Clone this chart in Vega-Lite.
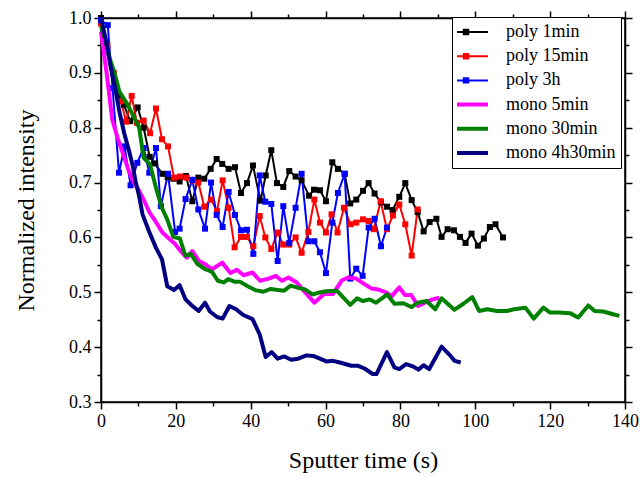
{
  "$schema": "https://vega.github.io/schema/vega-lite/v6.json",
  "width": 524,
  "height": 384,
  "autosize": {"type": "none"},
  "padding": {"left": 101, "top": 18, "right": 16, "bottom": 75},
  "background": "white",
  "config": {
    "view": {"stroke": "black", "strokeWidth": 1.5},
    "font": "Liberation Serif",
    "legend": {"labelFont": "Liberation Serif"},
    "axis": {"labelFont": "Liberation Serif", "titleFont": "Liberation Serif"}
  },
  "datasets": {
    "d": [
      {"s":"poly 1min","t":0,"v":1.0},{"s":"poly 1min","t":1.6,"v":0.95},{"s":"poly 1min","t":3.2,"v":0.9},{"s":"poly 1min","t":4.7,"v":0.86},{"s":"poly 1min","t":6.1,"v":0.842},{"s":"poly 1min","t":7.8,"v":0.812},{"s":"poly 1min","t":9.8,"v":0.837},{"s":"poly 1min","t":11.4,"v":0.8},{"s":"poly 1min","t":13.0,"v":0.747},{"s":"poly 1min","t":14.3,"v":0.735},{"s":"poly 1min","t":16.4,"v":0.716},{"s":"poly 1min","t":17.8,"v":0.71},{"s":"poly 1min","t":19.3,"v":0.707},{"s":"poly 1min","t":21.0,"v":0.702},{"s":"poly 1min","t":22.7,"v":0.712},{"s":"poly 1min","t":24.4,"v":0.666},{"s":"poly 1min","t":26.0,"v":0.709},{"s":"poly 1min","t":27.6,"v":0.707},{"s":"poly 1min","t":29.3,"v":0.725},{"s":"poly 1min","t":30.9,"v":0.743},{"s":"poly 1min","t":32.4,"v":0.734},{"s":"poly 1min","t":34.1,"v":0.725},{"s":"poly 1min","t":35.8,"v":0.728},{"s":"poly 1min","t":37.4,"v":0.681},{"s":"poly 1min","t":39.0,"v":0.699},{"s":"poly 1min","t":40.6,"v":0.731},{"s":"poly 1min","t":42.6,"v":0.667},{"s":"poly 1min","t":44.0,"v":0.713},{"s":"poly 1min","t":45.5,"v":0.759},{"s":"poly 1min","t":47.0,"v":0.699},{"s":"poly 1min","t":48.7,"v":0.692},{"s":"poly 1min","t":50.3,"v":0.721},{"s":"poly 1min","t":52.0,"v":0.711},{"s":"poly 1min","t":53.6,"v":0.704},{"s":"poly 1min","t":55.6,"v":0.676},{"s":"poly 1min","t":56.9,"v":0.687},{"s":"poly 1min","t":58.5,"v":0.686},{"s":"poly 1min","t":60.1,"v":0.666},{"s":"poly 1min","t":61.8,"v":0.737},{"s":"poly 1min","t":63.3,"v":0.725},{"s":"poly 1min","t":65.1,"v":0.716},{"s":"poly 1min","t":66.6,"v":0.662},{"s":"poly 1min","t":68.2,"v":0.669},{"s":"poly 1min","t":70.0,"v":0.685},{"s":"poly 1min","t":71.5,"v":0.699},{"s":"poly 1min","t":73.1,"v":0.68},{"s":"poly 1min","t":74.8,"v":0.664},{"s":"poly 1min","t":76.4,"v":0.656},{"s":"poly 1min","t":77.9,"v":0.65},{"s":"poly 1min","t":79.7,"v":0.674},{"s":"poly 1min","t":81.3,"v":0.699},{"s":"poly 1min","t":83.0,"v":0.668},{"s":"poly 1min","t":84.6,"v":0.646},{"s":"poly 1min","t":86.2,"v":0.611},{"s":"poly 1min","t":87.8,"v":0.628},{"s":"poly 1min","t":89.6,"v":0.634},{"s":"poly 1min","t":91.0,"v":0.601},{"s":"poly 1min","t":92.6,"v":0.615},{"s":"poly 1min","t":94.3,"v":0.613},{"s":"poly 1min","t":95.9,"v":0.601},{"s":"poly 1min","t":97.4,"v":0.59},{"s":"poly 1min","t":99.0,"v":0.607},{"s":"poly 1min","t":100.7,"v":0.585},{"s":"poly 1min","t":102.3,"v":0.598},{"s":"poly 1min","t":103.9,"v":0.619},{"s":"poly 1min","t":105.4,"v":0.624},{"s":"poly 1min","t":107.4,"v":0.6},
      {"s":"poly 15min","t":0,"v":0.99},{"s":"poly 15min","t":1.7,"v":0.95},{"s":"poly 15min","t":3.4,"v":0.9},{"s":"poly 15min","t":5.4,"v":0.848},{"s":"poly 15min","t":6.7,"v":0.811},{"s":"poly 15min","t":8.2,"v":0.858},{"s":"poly 15min","t":9.6,"v":0.809},{"s":"poly 15min","t":11.4,"v":0.813},{"s":"poly 15min","t":13.1,"v":0.79},{"s":"poly 15min","t":14.7,"v":0.835},{"s":"poly 15min","t":16.3,"v":0.779},{"s":"poly 15min","t":17.9,"v":0.766},{"s":"poly 15min","t":19.5,"v":0.709},{"s":"poly 15min","t":21.1,"v":0.711},{"s":"poly 15min","t":22.9,"v":0.709},{"s":"poly 15min","t":24.6,"v":0.704},{"s":"poly 15min","t":26.0,"v":0.7},{"s":"poly 15min","t":27.6,"v":0.656},{"s":"poly 15min","t":29.4,"v":0.669},{"s":"poly 15min","t":31.0,"v":0.648},{"s":"poly 15min","t":32.5,"v":0.704},{"s":"poly 15min","t":34.1,"v":0.654},{"s":"poly 15min","t":35.7,"v":0.582},{"s":"poly 15min","t":37.4,"v":0.601},{"s":"poly 15min","t":39.0,"v":0.601},{"s":"poly 15min","t":40.7,"v":0.584},{"s":"poly 15min","t":42.4,"v":0.639},{"s":"poly 15min","t":43.9,"v":0.6},{"s":"poly 15min","t":45.5,"v":0.579},{"s":"poly 15min","t":47.2,"v":0.609},{"s":"poly 15min","t":48.7,"v":0.587},{"s":"poly 15min","t":50.3,"v":0.587},{"s":"poly 15min","t":52.0,"v":0.6},{"s":"poly 15min","t":53.6,"v":0.572},{"s":"poly 15min","t":55.4,"v":0.61},{"s":"poly 15min","t":57.0,"v":0.669},{"s":"poly 15min","t":58.5,"v":0.627},{"s":"poly 15min","t":60.1,"v":0.609},{"s":"poly 15min","t":61.6,"v":0.642},{"s":"poly 15min","t":63.2,"v":0.609},{"s":"poly 15min","t":64.9,"v":0.654},{"s":"poly 15min","t":66.7,"v":0.624},{"s":"poly 15min","t":68.2,"v":0.627},{"s":"poly 15min","t":70.0,"v":0.633},{"s":"poly 15min","t":71.5,"v":0.63},{"s":"poly 15min","t":72.9,"v":0.615},{"s":"poly 15min","t":74.7,"v":0.666},{"s":"poly 15min","t":76.4,"v":0.615},{"s":"poly 15min","t":78.0,"v":0.64},{"s":"poly 15min","t":79.7,"v":0.66},{"s":"poly 15min","t":81.3,"v":0.624},{"s":"poly 15min","t":83.0,"v":0.567},{"s":"poly 15min","t":84.6,"v":0.651},
      {"s":"poly 3h","t":0,"v":0.996},{"s":"poly 3h","t":1.8,"v":0.987},{"s":"poly 3h","t":3.1,"v":0.872},{"s":"poly 3h","t":4.8,"v":0.718},{"s":"poly 3h","t":6.3,"v":0.766},{"s":"poly 3h","t":7.9,"v":0.695},{"s":"poly 3h","t":9.7,"v":0.736},{"s":"poly 3h","t":11.4,"v":0.763},{"s":"poly 3h","t":12.9,"v":0.718},{"s":"poly 3h","t":14.7,"v":0.763},{"s":"poly 3h","t":16.0,"v":0.657},{"s":"poly 3h","t":17.9,"v":0.716},{"s":"poly 3h","t":19.8,"v":0.61},{"s":"poly 3h","t":21.0,"v":0.616},{"s":"poly 3h","t":22.6,"v":0.67},{"s":"poly 3h","t":24.4,"v":0.705},{"s":"poly 3h","t":26.0,"v":0.651},{"s":"poly 3h","t":27.8,"v":0.616},{"s":"poly 3h","t":29.4,"v":0.7},{"s":"poly 3h","t":30.9,"v":0.641},{"s":"poly 3h","t":32.5,"v":0.619},{"s":"poly 3h","t":34.1,"v":0.683},{"s":"poly 3h","t":35.8,"v":0.641},{"s":"poly 3h","t":37.4,"v":0.613},{"s":"poly 3h","t":39.0,"v":0.614},{"s":"poly 3h","t":40.7,"v":0.57},{"s":"poly 3h","t":42.4,"v":0.713},{"s":"poly 3h","t":43.9,"v":0.665},{"s":"poly 3h","t":45.5,"v":0.661},{"s":"poly 3h","t":47.2,"v":0.557},{"s":"poly 3h","t":48.7,"v":0.657},{"s":"poly 3h","t":50.3,"v":0.59},{"s":"poly 3h","t":52.0,"v":0.654},{"s":"poly 3h","t":53.6,"v":0.716},{"s":"poly 3h","t":55.4,"v":0.593},{"s":"poly 3h","t":57.0,"v":0.593},{"s":"poly 3h","t":58.5,"v":0.573},{"s":"poly 3h","t":60.1,"v":0.535},{"s":"poly 3h","t":61.8,"v":0.627},{"s":"poly 3h","t":63.3,"v":0.681},{"s":"poly 3h","t":65.1,"v":0.716},{"s":"poly 3h","t":66.6,"v":0.525},{"s":"poly 3h","t":68.2,"v":0.543},{"s":"poly 3h","t":69.9,"v":0.53},{"s":"poly 3h","t":71.5,"v":0.618},{"s":"poly 3h","t":73.1,"v":0.634},{"s":"poly 3h","t":74.8,"v":0.584},{"s":"poly 3h","t":76.4,"v":0.618},
      {"s":"mono 5min","t":0,"v":0.975},{"s":"mono 5min","t":1.5,"v":0.9},{"s":"mono 5min","t":3.0,"v":0.815},{"s":"mono 5min","t":4.5,"v":0.78},{"s":"mono 5min","t":6.0,"v":0.75},{"s":"mono 5min","t":7.5,"v":0.72},{"s":"mono 5min","t":8.8,"v":0.7},{"s":"mono 5min","t":10.2,"v":0.685},{"s":"mono 5min","t":11.6,"v":0.666},{"s":"mono 5min","t":13.0,"v":0.645},{"s":"mono 5min","t":14.5,"v":0.63},{"s":"mono 5min","t":16.4,"v":0.609},{"s":"mono 5min","t":18.3,"v":0.597},{"s":"mono 5min","t":19.8,"v":0.588},{"s":"mono 5min","t":21.3,"v":0.575},{"s":"mono 5min","t":22.9,"v":0.563},{"s":"mono 5min","t":24.4,"v":0.575},{"s":"mono 5min","t":26.2,"v":0.557},{"s":"mono 5min","t":27.9,"v":0.551},{"s":"mono 5min","t":29.7,"v":0.542},{"s":"mono 5min","t":32.4,"v":0.554},{"s":"mono 5min","t":34.6,"v":0.535},{"s":"mono 5min","t":36.3,"v":0.541},{"s":"mono 5min","t":38.1,"v":0.531},{"s":"mono 5min","t":40.5,"v":0.536},{"s":"mono 5min","t":42.5,"v":0.521},{"s":"mono 5min","t":44.8,"v":0.525},{"s":"mono 5min","t":46.7,"v":0.53},{"s":"mono 5min","t":48.3,"v":0.521},{"s":"mono 5min","t":50.1,"v":0.527},{"s":"mono 5min","t":52.3,"v":0.518},{"s":"mono 5min","t":54.5,"v":0.5},{"s":"mono 5min","t":57.0,"v":0.481},{"s":"mono 5min","t":59.6,"v":0.497},{"s":"mono 5min","t":62.0,"v":0.497},{"s":"mono 5min","t":64.4,"v":0.522},{"s":"mono 5min","t":66.0,"v":0.527},{"s":"mono 5min","t":68.2,"v":0.525},{"s":"mono 5min","t":70.4,"v":0.515},{"s":"mono 5min","t":72.2,"v":0.507},{"s":"mono 5min","t":74.1,"v":0.505},{"s":"mono 5min","t":76.2,"v":0.5},{"s":"mono 5min","t":77.7,"v":0.493},{"s":"mono 5min","t":79.7,"v":0.509},{"s":"mono 5min","t":81.2,"v":0.495},{"s":"mono 5min","t":82.9,"v":0.495},{"s":"mono 5min","t":84.7,"v":0.475},{"s":"mono 5min","t":86.5,"v":0.481},{"s":"mono 5min","t":88.6,"v":0.487},{"s":"mono 5min","t":90.4,"v":0.49},
      {"s":"mono 30min","t":0,"v":0.985},{"s":"mono 30min","t":1.2,"v":0.96},{"s":"mono 30min","t":2.3,"v":0.927},{"s":"mono 30min","t":3.6,"v":0.9},{"s":"mono 30min","t":4.9,"v":0.866},{"s":"mono 30min","t":7.1,"v":0.842},{"s":"mono 30min","t":8.9,"v":0.818},{"s":"mono 30min","t":10.2,"v":0.8},{"s":"mono 30min","t":11.4,"v":0.745},{"s":"mono 30min","t":13.1,"v":0.733},{"s":"mono 30min","t":14.7,"v":0.69},{"s":"mono 30min","t":16.2,"v":0.655},{"s":"mono 30min","t":17.7,"v":0.633},{"s":"mono 30min","t":19.3,"v":0.601},{"s":"mono 30min","t":21.1,"v":0.598},{"s":"mono 30min","t":22.5,"v":0.567},{"s":"mono 30min","t":24.0,"v":0.57},{"s":"mono 30min","t":25.7,"v":0.552},{"s":"mono 30min","t":27.9,"v":0.542},{"s":"mono 30min","t":29.7,"v":0.537},{"s":"mono 30min","t":31.2,"v":0.521},{"s":"mono 30min","t":32.8,"v":0.518},{"s":"mono 30min","t":34.0,"v":0.524},{"s":"mono 30min","t":35.8,"v":0.519},{"s":"mono 30min","t":37.2,"v":0.519},{"s":"mono 30min","t":39.2,"v":0.511},{"s":"mono 30min","t":41.2,"v":0.504},{"s":"mono 30min","t":43.4,"v":0.501},{"s":"mono 30min","t":45.2,"v":0.506},{"s":"mono 30min","t":47.4,"v":0.504},{"s":"mono 30min","t":48.9,"v":0.503},{"s":"mono 30min","t":50.7,"v":0.512},{"s":"mono 30min","t":52.7,"v":0.508},{"s":"mono 30min","t":54.6,"v":0.505},{"s":"mono 30min","t":56.5,"v":0.496},{"s":"mono 30min","t":58.0,"v":0.499},{"s":"mono 30min","t":60.2,"v":0.502},{"s":"mono 30min","t":63.0,"v":0.503},{"s":"mono 30min","t":66.6,"v":0.477},{"s":"mono 30min","t":68.4,"v":0.489},{"s":"mono 30min","t":70.0,"v":0.484},{"s":"mono 30min","t":71.8,"v":0.487},{"s":"mono 30min","t":73.5,"v":0.481},{"s":"mono 30min","t":76.5,"v":0.496},{"s":"mono 30min","t":78.4,"v":0.479},{"s":"mono 30min","t":80.8,"v":0.48},{"s":"mono 30min","t":83.0,"v":0.473},{"s":"mono 30min","t":84.6,"v":0.481},{"s":"mono 30min","t":87.0,"v":0.484},{"s":"mono 30min","t":89.3,"v":0.469},{"s":"mono 30min","t":91.0,"v":0.489},{"s":"mono 30min","t":94.4,"v":0.468},{"s":"mono 30min","t":97.0,"v":0.48},{"s":"mono 30min","t":99.2,"v":0.491},{"s":"mono 30min","t":101.0,"v":0.466},{"s":"mono 30min","t":103.2,"v":0.469},{"s":"mono 30min","t":105.8,"v":0.466},{"s":"mono 30min","t":108.5,"v":0.466},{"s":"mono 30min","t":110.3,"v":0.469},{"s":"mono 30min","t":113.4,"v":0.472},{"s":"mono 30min","t":115.6,"v":0.452},{"s":"mono 30min","t":118.2,"v":0.472},{"s":"mono 30min","t":120.0,"v":0.463},{"s":"mono 30min","t":122.2,"v":0.463},{"s":"mono 30min","t":125.3,"v":0.462},{"s":"mono 30min","t":127.5,"v":0.454},{"s":"mono 30min","t":130.2,"v":0.476},{"s":"mono 30min","t":131.9,"v":0.466},{"s":"mono 30min","t":134.2,"v":0.465},{"s":"mono 30min","t":136.8,"v":0.46},{"s":"mono 30min","t":138.5,"v":0.457},
      {"s":"mono 4h30min","t":0,"v":1.0},{"s":"mono 4h30min","t":1.3,"v":0.96},{"s":"mono 4h30min","t":2.6,"v":0.91},{"s":"mono 4h30min","t":3.7,"v":0.875},{"s":"mono 4h30min","t":4.9,"v":0.83},{"s":"mono 4h30min","t":6.2,"v":0.79},{"s":"mono 4h30min","t":7.6,"v":0.755},{"s":"mono 4h30min","t":8.5,"v":0.73},{"s":"mono 4h30min","t":9.3,"v":0.7},{"s":"mono 4h30min","t":10.2,"v":0.675},{"s":"mono 4h30min","t":11.1,"v":0.642},{"s":"mono 4h30min","t":12.9,"v":0.61},{"s":"mono 4h30min","t":14.7,"v":0.581},{"s":"mono 4h30min","t":16.3,"v":0.56},{"s":"mono 4h30min","t":17.7,"v":0.511},{"s":"mono 4h30min","t":19.5,"v":0.504},{"s":"mono 4h30min","t":21.0,"v":0.513},{"s":"mono 4h30min","t":22.6,"v":0.487},{"s":"mono 4h30min","t":24.4,"v":0.475},{"s":"mono 4h30min","t":26.1,"v":0.466},{"s":"mono 4h30min","t":27.8,"v":0.481},{"s":"mono 4h30min","t":29.1,"v":0.465},{"s":"mono 4h30min","t":31.0,"v":0.455},{"s":"mono 4h30min","t":32.5,"v":0.452},{"s":"mono 4h30min","t":34.3,"v":0.475},{"s":"mono 4h30min","t":36.1,"v":0.469},{"s":"mono 4h30min","t":37.9,"v":0.459},{"s":"mono 4h30min","t":40.5,"v":0.451},{"s":"mono 4h30min","t":42.4,"v":0.423},{"s":"mono 4h30min","t":44.0,"v":0.382},{"s":"mono 4h30min","t":45.6,"v":0.391},{"s":"mono 4h30min","t":47.2,"v":0.379},{"s":"mono 4h30min","t":49.0,"v":0.383},{"s":"mono 4h30min","t":50.8,"v":0.377},{"s":"mono 4h30min","t":52.7,"v":0.379},{"s":"mono 4h30min","t":54.9,"v":0.385},{"s":"mono 4h30min","t":56.7,"v":0.384},{"s":"mono 4h30min","t":58.5,"v":0.379},{"s":"mono 4h30min","t":60.2,"v":0.374},{"s":"mono 4h30min","t":62.0,"v":0.375},{"s":"mono 4h30min","t":63.8,"v":0.372},{"s":"mono 4h30min","t":66.9,"v":0.366},{"s":"mono 4h30min","t":68.7,"v":0.366},{"s":"mono 4h30min","t":70.4,"v":0.361},{"s":"mono 4h30min","t":72.6,"v":0.351},{"s":"mono 4h30min","t":73.6,"v":0.351},{"s":"mono 4h30min","t":76.4,"v":0.391},{"s":"mono 4h30min","t":78.4,"v":0.363},{"s":"mono 4h30min","t":79.7,"v":0.36},{"s":"mono 4h30min","t":81.5,"v":0.369},{"s":"mono 4h30min","t":83.3,"v":0.365},{"s":"mono 4h30min","t":84.8,"v":0.359},{"s":"mono 4h30min","t":86.2,"v":0.367},{"s":"mono 4h30min","t":87.7,"v":0.36},{"s":"mono 4h30min","t":91.0,"v":0.401},{"s":"mono 4h30min","t":93.0,"v":0.387},{"s":"mono 4h30min","t":94.5,"v":0.375},{"s":"mono 4h30min","t":96.1,"v":0.372}
    ]
  },
  "data": {"name": "d"},
  "resolve": {"scale": {"x": "independent", "y": "independent"}, "axis": {"x": "independent", "y": "independent"}},
  "layer": [
    {
      "transform": [{"filter": {"field": "s", "oneOf": ["poly 1min", "poly 15min", "poly 3h"]}}],
      "mark": {"type": "line", "strokeWidth": 2},
      "encoding": {
        "x": {"field": "t", "type": "quantitative", "scale": {"domain": [0, 140], "nice": false},
          "axis": {"orient": "bottom", "values": [0,10,20,30,40,50,60,70,80,90,100,110,120,130,140],
            "tickSize": {"condition": {"test": "datum.value % 20 === 0", "value": 7}, "value": 4},
            "labelExpr": "datum.value % 20 === 0 ? datum.label : ''",
            "labelFlush": false, "labelOverlap": false, "grid": false,
            "domainColor": "black", "domainWidth": 1.5, "tickColor": "black", "tickWidth": 1.5,
            "labelFont": "Liberation Serif", "labelFontSize": 18, "labelColor": "black", "labelPadding": 3,
            "title": "Sputter time (s)", "titleFont": "Liberation Serif", "titleFontSize": 24, "titleFontWeight": "normal", "titleColor": "black", "titlePadding": 18}},
        "y": {"field": "v", "type": "quantitative", "scale": {"domain": [0.3, 1.0], "nice": false, "zero": false},
          "axis": {"orient": "left", "values": [0.3,0.35,0.4,0.45,0.5,0.55,0.6,0.65,0.7,0.75,0.8,0.85,0.9,0.95,1.0],
            "tickSize": {"condition": {"test": "abs(datum.value*10 - round(datum.value*10)) < 0.001", "value": 7}, "value": 4},
            "labelExpr": "abs(datum.value*10 - round(datum.value*10)) < 0.001 ? format(datum.value, '.1f') : ''",
            "labelFlush": false, "labelOverlap": false, "grid": false,
            "domainColor": "black", "domainWidth": 1.5, "tickColor": "black", "tickWidth": 1.5,
            "labelFont": "Liberation Serif", "labelFontSize": 18, "labelColor": "black", "labelPadding": 3,
            "title": "Normalized intensity", "titleFont": "Liberation Serif", "titleFontSize": 24, "titleFontWeight": "normal", "titleColor": "black", "titlePadding": 30}},
        "color": {"field": "s", "type": "nominal",
          "scale": {"domain": ["poly 1min", "poly 15min", "poly 3h", "mono 5min", "mono 30min", "mono 4h30min"],
                    "range": ["#000000", "#ff0000", "#0000ff", "#ff00ff", "#008000", "#000080"]},
          "legend": {"orient": "none", "legendX": 351, "legendY": -1, "title": null,
            "strokeColor": "black", "fillColor": "white", "padding": 5, "cornerRadius": 0,
            "labelFont": "Liberation Serif", "labelFontSize": 18, "labelColor": "black", "labelOffset": 31,
            "symbolType": "stroke", "symbolSize": 1936, "clipHeight": 20, "rowPadding": 4.2, "symbolOffset": 0,
            "encode": {"symbols": {"update": {
              "shape": {"signal": "indexof(['poly 1min','poly 15min','poly 3h'], datum.value) >= 0 ? 'M-1,0L1,0M-0.1,-0.1L0.1,-0.1L0.1,0.1L-0.1,0.1Z' : 'M-1,0L1,0'"},
              "fill": {"scale": "color", "field": "value"},
              "stroke": {"scale": "color", "field": "value"},
              "strokeWidth": {"signal": "indexof(['poly 1min','poly 15min','poly 3h'], datum.value) >= 0 ? 2 : 4"},
              "opacity": {"value": 1}
            }}}}
        }
      }
    },
    {
      "transform": [{"filter": {"field": "s", "oneOf": ["poly 1min", "poly 15min", "poly 3h"]}}],
      "mark": {"type": "point", "shape": "square", "filled": true, "size": 36, "opacity": 1},
      "encoding": {
        "x": {"field": "t", "type": "quantitative", "scale": {"domain": [0, 140], "nice": false},
          "axis": {"orient": "top", "values": [0,10,20,30,40,50,60,70,80,90,100,110,120,130,140],
            "tickSize": {"condition": {"test": "datum.value % 20 === 0", "value": 7}, "value": 4},
            "labels": false, "title": null, "grid": false,
            "domainColor": "black", "domainWidth": 1.5, "tickColor": "black", "tickWidth": 1.5}},
        "y": {"field": "v", "type": "quantitative", "scale": {"domain": [0.3, 1.0], "nice": false, "zero": false},
          "axis": {"orient": "right", "values": [0.3,0.35,0.4,0.45,0.5,0.55,0.6,0.65,0.7,0.75,0.8,0.85,0.9,0.95,1.0],
            "tickSize": {"condition": {"test": "abs(datum.value*10 - round(datum.value*10)) < 0.001", "value": 7}, "value": 4},
            "labels": false, "title": null, "grid": false,
            "domainColor": "black", "domainWidth": 1.5, "tickColor": "black", "tickWidth": 1.5}},
        "color": {"field": "s", "type": "nominal"}
      }
    },
    {
      "transform": [{"filter": {"field": "s", "oneOf": ["mono 5min", "mono 30min", "mono 4h30min"]}}],
      "mark": {"type": "line", "strokeWidth": 4, "strokeJoin": "round"},
      "encoding": {
        "x": {"field": "t", "type": "quantitative", "scale": {"domain": [0, 140], "nice": false}, "axis": null},
        "y": {"field": "v", "type": "quantitative", "scale": {"domain": [0.3, 1.0], "nice": false, "zero": false}, "axis": null},
        "color": {"field": "s", "type": "nominal"}
      }
    }
  ]
}
